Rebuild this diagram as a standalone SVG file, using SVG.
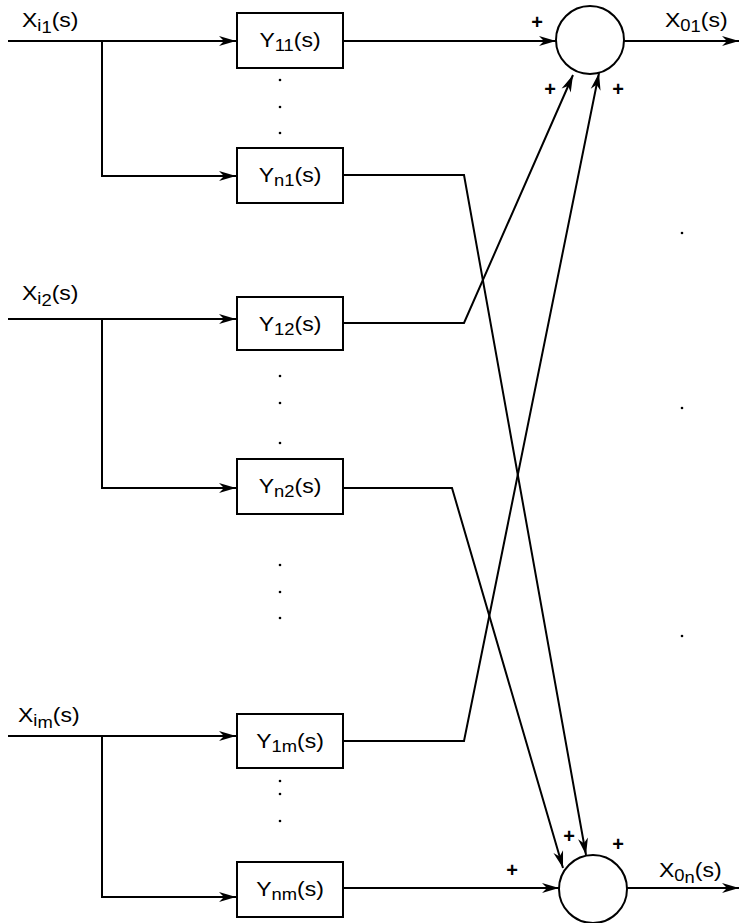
<svg xmlns="http://www.w3.org/2000/svg" width="740" height="923" viewBox="0 0 740 923">
<style>
.ln{fill:none;stroke:#000;stroke-width:2;stroke-linejoin:miter}
.arr{marker-end:url(#ah)}
.box{fill:#fff;stroke:#000;stroke-width:2}
.sum{fill:#fff;stroke:#000;stroke-width:2}
.t{font-family:"Liberation Sans",Arial,sans-serif;font-size:20px;fill:#000}
.s{font-size:16px}
.pl{font-family:"Liberation Sans",Arial,sans-serif;font-size:20px;font-weight:bold;fill:#000;text-anchor:middle}
.dot{fill:#000}
</style>
<defs>
<marker id="ah" markerUnits="userSpaceOnUse" markerWidth="20" markerHeight="12" viewBox="-18 -6 19 12" refX="0" refY="0" orient="auto">
<path d="M0,0 L-17,-5 L-12,0 L-17,5 Z" fill="#000"/>
</marker>
</defs>
<rect width="740" height="923" fill="#fff"/>

<g id="connectors">
<path class="ln arr" d="M8,41 H236"/>
<path class="ln arr" d="M102,41 V176 H236"/>
<path class="ln arr" d="M8,319 H236"/>
<path class="ln arr" d="M102,319 V488 H236"/>
<path class="ln arr" d="M8,736 H236"/>
<path class="ln arr" d="M102,736 V897 H236"/>
<path class="ln arr" d="M343,41 H556"/>
<path class="ln arr" d="M343,323 H464 L573,75"/>
<path class="ln arr" d="M343,741 H464 L599,73"/>
<path class="ln arr" d="M343,175 H464 L586,855"/>
<path class="ln arr" d="M343,488 H452 L563,868"/>
<path class="ln arr" d="M343,888 H559"/>
<path class="ln arr" d="M624,41 H739"/>
<path class="ln arr" d="M627,888 H739"/>
</g>

<g id="Y11"><rect class="box" x="237" y="13" width="106" height="55"/>
<text class="t" text-anchor="middle" transform="translate(290,47) scale(1.15,1)">Y<tspan class="s" dy="4">11</tspan><tspan dy="-4">(s)</tspan></text></g>
<g id="Yn1"><rect class="box" x="237" y="148" width="106" height="55"/>
<text class="t" text-anchor="middle" transform="translate(290,182) scale(1.15,1)">Y<tspan class="s" dy="4">n1</tspan><tspan dy="-4">(s)</tspan></text></g>
<g id="Y12"><rect class="box" x="237" y="297" width="106" height="53"/>
<text class="t" text-anchor="middle" transform="translate(290,331) scale(1.15,1)">Y<tspan class="s" dy="4">12</tspan><tspan dy="-4">(s)</tspan></text></g>
<g id="Yn2"><rect class="box" x="237" y="459" width="106" height="55"/>
<text class="t" text-anchor="middle" transform="translate(290,493) scale(1.15,1)">Y<tspan class="s" dy="4">n2</tspan><tspan dy="-4">(s)</tspan></text></g>
<g id="Y1m"><rect class="box" x="237" y="714" width="106" height="54"/>
<text class="t" text-anchor="middle" transform="translate(290,748) scale(1.15,1)">Y<tspan class="s" dy="4">1m</tspan><tspan dy="-4">(s)</tspan></text></g>
<g id="Ynm"><rect class="box" x="237" y="862" width="106" height="55"/>
<text class="t" text-anchor="middle" transform="translate(290,896) scale(1.15,1)">Y<tspan class="s" dy="4">nm</tspan><tspan dy="-4">(s)</tspan></text></g>

<g id="sum1"><circle class="sum" cx="590" cy="40" r="34"/></g>
<g id="sumn"><circle class="sum" cx="593" cy="889" r="34"/></g>

<g id="labels">
<text class="t" transform="translate(22,27) scale(1.15,1)">X<tspan class="s" dy="4">i</tspan><tspan class="s" dy="2">1</tspan><tspan dy="-6">(s)</tspan></text>
<text class="t" transform="translate(22,300) scale(1.15,1)">X<tspan class="s" dy="4">i</tspan><tspan class="s" dy="2">2</tspan><tspan dy="-6">(s)</tspan></text>
<text class="t" transform="translate(18,722) scale(1.15,1)">X<tspan class="s" dy="4">i</tspan><tspan class="s" dy="2">m</tspan><tspan dy="-6">(s)</tspan></text>
<text class="t" transform="translate(665,27) scale(1.15,1)">X<tspan class="s" dy="4">0</tspan><tspan class="s" dy="1">1</tspan><tspan dy="-5">(s)</tspan></text>
<text class="t" transform="translate(659,877) scale(1.15,1)">X<tspan class="s" dy="4">0</tspan><tspan class="s" dy="2">n</tspan><tspan dy="-6">(s)</tspan></text>
<text class="pl" x="537" y="29">+</text>
<text class="pl" x="550" y="96">+</text>
<text class="pl" x="618" y="96">+</text>
<text class="pl" x="512" y="877">+</text>
<text class="pl" x="569" y="843">+</text>
<text class="pl" x="618" y="851">+</text>
</g>

<g id="dots">
<circle class="dot" cx="280" cy="80" r="1.3"/>
<circle class="dot" cx="280" cy="107" r="1.3"/>
<circle class="dot" cx="280" cy="133" r="1.3"/>
<circle class="dot" cx="280" cy="376" r="1.3"/>
<circle class="dot" cx="280" cy="403" r="1.3"/>
<circle class="dot" cx="280" cy="443" r="1.3"/>
<circle class="dot" cx="280" cy="565" r="1.3"/>
<circle class="dot" cx="280" cy="592" r="1.3"/>
<circle class="dot" cx="280" cy="618" r="1.3"/>
<circle class="dot" cx="280" cy="781" r="1.3"/>
<circle class="dot" cx="280" cy="794" r="1.3"/>
<circle class="dot" cx="280" cy="821" r="1.3"/>
<circle class="dot" cx="682" cy="233" r="1.3"/>
<circle class="dot" cx="682" cy="408" r="1.3"/>
<circle class="dot" cx="682" cy="636" r="1.3"/>
</g>
</svg>
